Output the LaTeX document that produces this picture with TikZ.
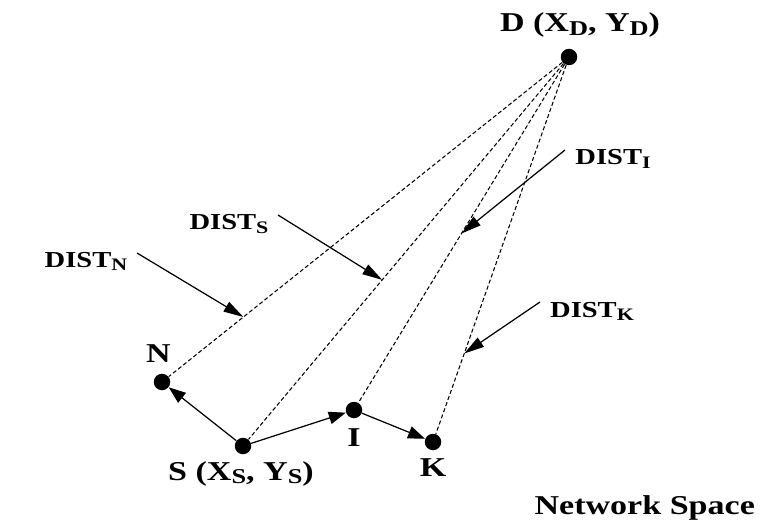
\documentclass[tikz,border=0pt]{standalone}
\usepackage{fontspec}
\setmainfont{Liberation Serif}[FakeStretch=1.25]
\usepackage{tikz}
\usetikzlibrary{positioning,arrows.meta,calc}
\newcommand{\lowidx}[1]{\raisebox{-0.3ex}{\fontsize{12}{13}\selectfont #1}}
\newcommand{\lowdist}[1]{\raisebox{-0.3ex}{\fontsize{10}{11}\selectfont #1}}
\tikzset{
  site/.style={circle, fill=black, inner sep=0pt, minimum size=0.33cm},
  tag/.style={font=\fontsize{15.5}{17}\selectfont\bfseries, inner sep=1pt},
  dtag/.style={font=\fontsize{13}{15}\selectfont\bfseries, inner sep=1pt},
  hop/.style={-{Triangle[length=3.4mm,width=2.5mm]}, line width=0.7pt},
  ray/.style={line width=0.6pt, dash pattern=on 2.3pt off 1.4pt},
  pointer/.style={-{Triangle[length=4mm,width=2.2mm]}, line width=0.7pt},
}

\begin{document}
\begin{tikzpicture}[x=0.02cm, y=-0.02cm]
  \useasboundingbox (0,0) rectangle (760,520);
  \node[site] (d) at (569,57) {};
  \node[site] (n) at (162,382) {};
  \node[site] (s) at (243,446) {};
  \node[site] (i) at (354,410) {};
  \node[site] (k) at (433,442) {};
  \node[tag, anchor=base] (dlab) at (580,32) {D (X\lowidx{D}, Y\lowidx{D})};
  \node[tag, above=0.17cm of n, xshift=-0.07cm] (nlab) {N};
  \node[tag, anchor=base] (slab) at (241,480) {S (X\lowidx{S}, Y\lowidx{S})};
  \node[tag, below=0.15cm of i] (ilab) {I};
  \node[tag, below=0.11cm of k] (klab) {K};
  \draw[ray] (d) -- (n);
  \draw[ray] (d) -- (s);
  \draw[ray] (d) -- (i);
  \draw[ray] (d) -- (k);
  \draw[hop] (s) -- (n);
  \draw[hop] (s) -- (i);
  \draw[hop] (i) -- (k);
  \node[dtag, anchor=base] (distn) at (86,267) {DIST\lowdist{N}};
  \node[dtag, anchor=base] (dists) at (229,230) {DIST\lowdist{S}};
  \node[dtag, anchor=base] (disti) at (613,165) {DIST\lowdist{I}};
  \node[dtag, anchor=base] (distk) at (592,317) {DIST\lowdist{K}};
  \coordinate (tailn) at (137,253);
  \coordinate (tails) at (278,215);
  \coordinate (taili) at (565,150);
  \coordinate (tailk) at (540,302);
  \coordinate (headn) at ($(d)!0.8!(n)$);
  \coordinate (heads) at ($(d)!0.573!(s)$);
  \coordinate (headi) at ($(d)!0.5!(i)$);
  \coordinate (headk) at ($(d)!0.77!(k)$);
  \draw[pointer] (tailn) -- (headn);
  \draw[pointer] (tails) -- (heads);
  \draw[pointer] (taili) -- (headi);
  \draw[pointer] (tailk) -- (headk);
  \node[tag, anchor=base east] (space) at (757,514) {Network Space};
\end{tikzpicture}
\end{document}
